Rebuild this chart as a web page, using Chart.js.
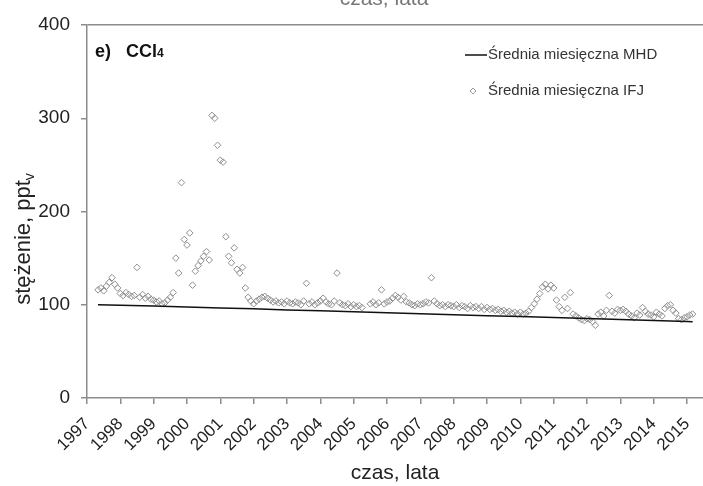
<!DOCTYPE html>
<html>
<head>
<meta charset="utf-8">
<script src="https://cdn.jsdelivr.net/npm/chart.js@4/dist/chart.umd.min.js"></script>
<style>
  html, body { margin: 0; padding: 0; background: #fff; overflow: hidden; }
  #wrap { width: 703px; height: 486px; }
</style>
</head>
<body>
<div id="wrap"><canvas id="chart" width="703" height="486"></canvas></div>
<script>
// CCl4 mixing ratio, monthly means (pptv)

const yearTicks = [1997, 1998, 1999, 2000, 2001, 2002, 2003, 2004, 2005, 2006,
  2007, 2008, 2009, 2010, 2011, 2012, 2013, 2014, 2015];
const concTicks = [0, 100, 200, 300, 400];

// Mace Head (MHD) monthly mean, read at yearly steps
const mhdTime = [1997.33, 1998, 1999, 2000, 2001, 2002, 2003, 2004, 2005, 2006,
  2007, 2008, 2009, 2010, 2011, 2012, 2013, 2014, 2015, 2015.17];
const mhdConc = [100.0, 99.5, 98.6, 97.6, 96.6, 95.6, 94.5, 93.5, 92.4, 91.4,
  90.3, 89.3, 88.3, 87.3, 86.2, 85.2, 84.1, 83.1, 82.0, 81.8];

// Krakow (IFJ) monthly means, first value = May 1997, null = no sample
const ifjFirstYear = 1997;
const ifjFirstMonth = 5;
const ifjMonthly = [
  116, 118, 115, 120, 124, 129, 122, 118,                // 1997
  112, 110, 113, 111, 109, 110, 140, 108, 111, 107, 109, 106, // 1998
  105, 103, 104, 101, 102, 105, 108, 113, 150, 134, 231, 170, // 1999
  164, 177, 121, 136, 142, 147, 152, 157, 148, 303, 300, 271, // 2000
  255, 253, 173, 152, 145, 161, 138, 134, 140, 118, 108, 104, // 2001
  101, 104, 106, 108, 109, 107, 105, 103, 104, 102, 103, 101, // 2002
  104, 102, 101, 103, 102, 100, 104, 123, 101, 103, 100, 102, // 2003
  104, 107, 103, 101, 100, 104, 134, 102, 100, 99, 101, 98,   // 2004
  100, 98, 99, 97, null, null, 101, 103, 100, 102, 116, 101,  // 2005
  103, 104, 107, 110, 108, 105, 109, 103, 102, 100, 99, 101,  // 2006
  100, 101, 103, 102, 129, 104, 101, 99, 100, 98, 100, 99,    // 2007
  98, 100, 97, 99, 98, 96, 99, 97, 98, 96, 98, 95,            // 2008
  97, 95, 96, 94, 95, 93, 94, 92, 93, 91, 92, 90,             // 2009
  92, 90, 91, 93, 97, 101, 106, 112, 119, 122, 117, 121,      // 2010
  118, 105, 98, 94, 108, 96, 113, 90, 88, 86, 84, 83,         // 2011
  85, 84, 82, 78, 90, 92, 88, 94, 110, 93, 91, 95,            // 2012
  94, 95, 93, 90, 88, 86, 91, 89, 97, 93, 90, 89,             // 2013
  87, 92, 90, 88, 96, 99, 100, 94, 91, 85, 84, 86,            // 2014
  87, 89, 90                                                  // 2015
];

const FONT = '"Liberation Sans", Arial, sans-serif';
const AXIS_GREY = '#8c8c8c';

const mhdPoints = mhdTime.map((t, i) => ({ x: t, y: mhdConc[i] }));
const ifjPoints = ifjMonthly
  .map((v, i) => v == null ? null : { x: ifjFirstYear + (ifjFirstMonth - 1 + i) / 12, y: v })
  .filter(Boolean);

// Texts drawn straight onto the canvas: legend, panel tag, axis titles
const annotations = {
  id: 'annotations',
  afterDraw(chart) {
    const ctx = chart.ctx;
    ctx.save();
    ctx.textBaseline = 'alphabetic';

    // leftover axis title of the panel above
    ctx.font = `21px ${FONT}`;
    ctx.textAlign = 'center';
    ctx.fillStyle = '#777';
    ctx.fillText('czas, lata', 384, 5);

    // panel tag
    ctx.fillStyle = '#111';
    ctx.textAlign = 'left';
    ctx.font = `bold 18px ${FONT}`;
    ctx.fillText('e)', 95, 57);
    ctx.fillText('CCl', 126, 57);
    const w = ctx.measureText('CCl').width;
    ctx.font = `bold 12px ${FONT}`;
    ctx.fillText('4', 126 + w, 57);

    // legend
    ctx.strokeStyle = '#111';
    ctx.lineWidth = 1.5;
    ctx.beginPath();
    ctx.moveTo(465, 55);
    ctx.lineTo(487, 55);
    ctx.stroke();
    ctx.strokeStyle = '#999';
    ctx.lineWidth = 1;
    ctx.beginPath();
    ctx.moveTo(473, 88); ctx.lineTo(476, 91); ctx.lineTo(473, 94); ctx.lineTo(470, 91);
    ctx.closePath();
    ctx.stroke();
    ctx.fillStyle = '#333';
    ctx.font = `15px ${FONT}`;
    ctx.textBaseline = 'middle';
    ctx.fillText('Średnia miesięczna MHD', 488, 55);
    ctx.fillText('Średnia miesięczna IFJ', 488, 91);

    // x axis title
    ctx.fillStyle = '#222';
    ctx.textAlign = 'center';
    ctx.textBaseline = 'alphabetic';
    ctx.font = `21px ${FONT}`;
    ctx.fillText('czas, lata', 395, 479);

    // y axis title with subscript v
    ctx.translate(22, 239);
    ctx.rotate(-Math.PI / 2);
    ctx.font = `22px ${FONT}`;
    const main = 'stężenie, ppt';
    const mw = ctx.measureText(main).width;
    ctx.font = `14px ${FONT}`;
    const sw = ctx.measureText('v').width;
    const x0 = -(mw + sw) / 2;
    ctx.textAlign = 'left';
    ctx.font = `22px ${FONT}`;
    ctx.fillText(main, x0, 8);
    ctx.font = `14px ${FONT}`;
    ctx.fillText('v', x0 + mw, 12);
    ctx.restore();
  }
};

new Chart(document.getElementById('chart'), {
  type: 'scatter',
  data: {
    datasets: [
      {
        label: 'Średnia miesięczna MHD',
        data: mhdPoints,
        showLine: true,
        borderColor: '#111',
        borderWidth: 1.5,
        pointRadius: 0,
        order: 1,
      },
      {
        label: 'Średnia miesięczna IFJ',
        data: ifjPoints,
        pointStyle: 'rectRot',
        pointRadius: 3.3,
        borderColor: '#8f8f8f',
        backgroundColor: 'rgba(255,255,255,0)',
        borderWidth: 1,
        order: 2,
      },
    ],
  },
  options: {
    responsive: false,
    animation: false,
    layout: { autoPadding: false, padding: { top: 25, right: 0, left: 0, bottom: 0 } },
    plugins: {
      legend: { display: false },
      tooltip: { enabled: false },
    },
    scales: {
      x: {
        type: 'linear',
        min: 1997,
        max: 2015.48,
        afterBuildTicks: s => { s.ticks = yearTicks.map(v => ({ value: v })); },
        afterFit: s => { s.height = 88; s.paddingRight = 0; s.paddingLeft = 0; },
        ticks: {
          autoSkip: false,
          minRotation: 45,
          maxRotation: 45,
          padding: 10,
          color: '#222',
          font: { family: FONT, size: 17 },
          callback: v => String(v),
        },
        grid: { drawOnChartArea: false, tickLength: 6, tickColor: AXIS_GREY, lineWidth: 1.5 },
        border: { color: AXIS_GREY, width: 1.5 },
      },
      y: {
        min: 0,
        max: 400,
        afterBuildTicks: s => { s.ticks = concTicks.map(v => ({ value: v })); },
        afterFit: s => { s.width = 87; },
        ticks: {
          padding: 11,
          color: '#222',
          font: { family: FONT, size: 19 },
        },
        grid: {
          color: c => (c.tick && c.tick.value === 400 ? AXIS_GREY : 'rgba(0,0,0,0)'),
          tickColor: AXIS_GREY,
          tickLength: 6,
          lineWidth: 1.5,
        },
        border: { color: AXIS_GREY, width: 1.5 },
      },
    },
  },
  plugins: [annotations],
});
</script>
</body>
</html>
